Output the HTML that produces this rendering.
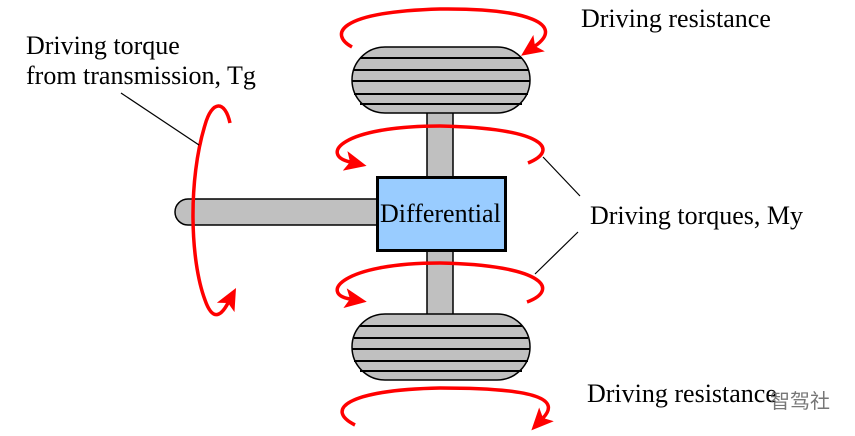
<!DOCTYPE html>
<html><head><meta charset="utf-8"><style>
html,body{margin:0;padding:0;background:#fff;}
svg{display:block;}
text{font-family:"Liberation Serif","Noto Serif CJK SC",serif;font-size:26px;fill:#000;}
</style></head><body>
<svg width="855" height="436" viewBox="0 0 855 436" xmlns="http://www.w3.org/2000/svg">
<defs>
<marker id="ah" markerWidth="22" markerHeight="20" refX="5" refY="10" orient="auto" markerUnits="userSpaceOnUse">
<path d="M0,0 L22,10 L0,20 L5,10 Z" fill="#f00"/>
</marker>
</defs>
<path d="M188,199 L377,199 L377,225 L188,225 A13,13 0 0 1 188,199 Z" fill="#c0c0c0" stroke="#000" stroke-width="1.5"/>
<rect x="427" y="112" width="26" height="66" fill="#c0c0c0" stroke="#000" stroke-width="1.5"/>
<rect x="427" y="250" width="26" height="65" fill="#c0c0c0" stroke="#000" stroke-width="1.5"/>
<rect x="352" y="47" width="178" height="66" rx="33" ry="33" fill="#c0c0c0" stroke="#000" stroke-width="1.5"/>
<rect x="352" y="314" width="178" height="66" rx="33" ry="33" fill="#c0c0c0" stroke="#000" stroke-width="1.5"/>
<g stroke="#000" stroke-width="2">
<line x1="360" y1="58" x2="522" y2="58"/><line x1="354" y1="70" x2="528" y2="70"/>
<line x1="352" y1="81" x2="530" y2="81"/><line x1="354" y1="94" x2="528" y2="94"/>
<line x1="360" y1="104" x2="522" y2="104"/>
<line x1="360" y1="326" x2="522" y2="326"/><line x1="354" y1="338" x2="528" y2="338"/>
<line x1="352" y1="349" x2="530" y2="349"/><line x1="354" y1="361" x2="528" y2="361"/>
<line x1="360" y1="371" x2="522" y2="371"/>
</g>
<rect x="377.5" y="177.5" width="128" height="73" fill="#99ccff" stroke="#000" stroke-width="3"/>
<text x="380" y="222">Differential</text>
<g fill="none" stroke="#f00" stroke-width="3.5" marker-end="url(#ah)">
<path d="M352,47 C330,35 335,12 440,9 C530,8 565,25 535,46"/>
<path d="M528,163 C560,150 545,128 440,126 C340,126 320,155 350,162"/>
<path d="M527,302 C560,290 545,265 440,263 C340,263 320,294 350,299"/>
<path d="M355,425 C325,410 345,390 440,388 C540,388 560,400 543,418"/>
<path d="M230,123 C225,100 212,100 205,125 C188,180 190,260 205,300 C212,320 220,318 228,303"/>
</g>
<g stroke="#000" stroke-width="1.2">
<line x1="121" y1="93" x2="199" y2="145"/>
<line x1="543" y1="157" x2="580" y2="196"/>
<line x1="535" y1="274" x2="578" y2="232"/>
</g>
<text x="581" y="27">Driving resistance</text>
<text x="26" y="54">Driving torque</text>
<text x="26" y="84">from transmission, Tg</text>
<text x="590" y="224">Driving torques, My</text>
<text x="587" y="402">Driving resistance</text>
<text x="770" y="408" style="font-family:'Noto Sans CJK SC',sans-serif;font-size:20px;fill:#777">智驾社</text>
</svg>
</body></html>
